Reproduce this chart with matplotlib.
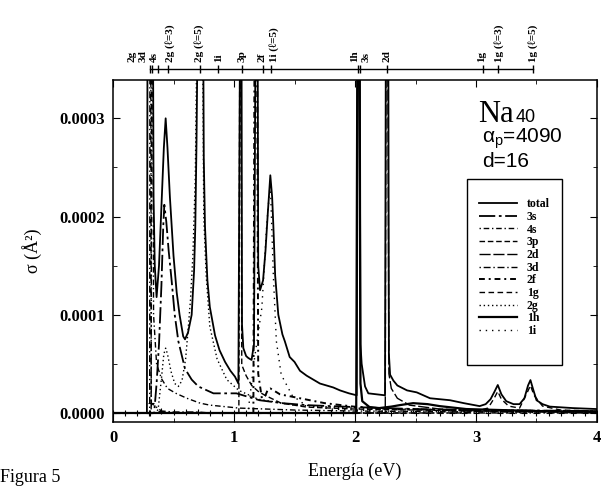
import numpy as np
import matplotlib
matplotlib.use('Agg')
import matplotlib.pyplot as plt
from matplotlib.patches import Rectangle
from matplotlib.transforms import blended_transform_factory

plt.rcParams['font.family'] = ['Liberation Serif', 'DejaVu Serif']
plt.rcParams['font.weight'] = 'bold'
plt.rcParams['mathtext.fontset'] = 'stix'

SCALE = 1e-4  # curve values are written in units of 1e-4 A^2

# total cross section (values > 3.4 run off the top of the frame)
total_x = [0.00, 0.28, 0.285, 0.33, 0.335, 0.345, 0.36, 0.38, 0.40, 0.42, 0.435, 0.45, 0.47,
           0.485, 0.50, 0.526, 0.55, 0.58, 0.595, 0.62, 0.65, 0.67, 0.68, 0.69, 0.70, 0.745,
           0.75, 0.76, 0.78, 0.80, 0.843, 0.88, 0.926, 0.97, 1.008, 1.036, 1.05, 1.062, 1.066,
           1.077, 1.10, 1.118, 1.145, 1.165, 1.178, 1.195, 1.20, 1.215, 1.24, 1.26, 1.28, 1.30,
           1.315, 1.325, 1.34, 1.366, 1.40, 1.42, 1.46, 1.50, 1.545, 1.60, 1.71, 1.82, 1.876,
           1.95, 2.014, 2.022, 2.04, 2.045, 2.055, 2.083, 2.11, 2.248, 2.255, 2.275, 2.28, 2.29,
           2.317, 2.35, 2.43, 2.51, 2.62, 2.785, 2.90, 3.03, 3.08, 3.12, 3.15, 3.18, 3.21, 3.25,
           3.31, 3.36, 3.40, 3.43, 3.45, 3.47, 3.50, 3.55, 3.61, 3.80, 4.00]
total_y = [0.00, 0.00, 4.0, 4.0, 2.2, 1.5, 1.18, 1.5, 2.1, 2.7, 3.0, 2.7, 2.2,
           1.9, 1.6, 1.23, 1.0, 0.78, 0.75, 0.82, 1.0, 1.45, 1.9, 2.76, 4.0, 4.0,
           2.6, 1.9, 1.35, 1.08, 0.79, 0.64, 0.52, 0.43, 0.37, 0.30, 4.0, 4.0, 0.9,
           0.66, 0.58, 0.56, 0.54, 0.70, 4.0, 4.0, 1.5, 1.25, 1.35, 1.65, 2.05, 2.42,
           2.2, 1.91, 1.40, 1.0, 0.80, 0.73, 0.57, 0.52, 0.43, 0.38, 0.30, 0.26, 0.23,
           0.20, 0.18, 4.0, 4.0, 0.7, 0.5, 0.27, 0.20, 0.18, 4.0, 4.0, 0.6, 0.39,
           0.33, 0.28, 0.23, 0.21, 0.15, 0.13, 0.10, 0.07, 0.09, 0.14, 0.21, 0.285, 0.19, 0.12,
           0.09, 0.09, 0.15, 0.28, 0.335, 0.25, 0.13, 0.09, 0.065, 0.05, 0.04]

s3_x = [0.0, 0.34, 0.36, 0.38, 0.40, 0.415, 0.424, 0.44, 0.46, 0.485, 0.51, 0.54, 0.595, 0.65,
        0.705, 0.83, 1.02, 1.21, 1.4, 1.6, 2.0, 2.5, 3.0, 4.0]
s3_y = [0.0, 0.0, 0.3, 0.7, 1.3, 1.9, 2.12, 1.95, 1.65, 1.34, 1.0, 0.73, 0.45, 0.34,
        0.27, 0.2, 0.2, 0.13, 0.1, 0.08, 0.06, 0.04, 0.03, 0.02]

s4_x = [0.0, 0.315, 0.32, 0.33, 0.335, 0.36, 0.40, 0.45, 0.52, 0.61, 0.72, 0.80, 1.04, 1.5, 2.0, 3.0, 4.0]
s4_y = [0.0, 0.0, 4.0, 4.0, 1.0, 0.5, 0.35, 0.25, 0.2, 0.15, 0.1, 0.08, 0.05, 0.03, 0.02, 0.01, 0.01]

p3_x = [0.0, 1.04, 1.048, 1.058, 1.064, 1.10, 1.146, 1.2, 1.256, 1.39, 1.6, 2.0, 3.0, 4.0]
p3_y = [0.0, 0.0, 4.0, 4.0, 0.49, 0.38, 0.28, 0.22, 0.18, 0.10, 0.06, 0.04, 0.02, 0.01]

d2_x = [0.0, 2.25, 2.257, 2.27, 2.28, 2.30, 2.35, 2.45, 2.7, 3.0, 4.0]
d2_y = [0.0, 0.0, 4.0, 4.0, 0.4, 0.25, 0.15, 0.08, 0.04, 0.02, 0.01]

d3_x = [0.0, 0.1, 0.2, 0.3, 0.303, 0.305, 0.312, 0.316, 0.4, 0.5, 0.6, 0.7, 0.8, 0.9, 1.0,
        1.1, 1.2, 1.3, 1.4, 1.5, 1.6, 1.7, 1.8, 1.9, 2.0, 2.1, 2.2, 2.3, 2.4, 2.5, 2.6,
        2.7, 2.8, 2.9, 3.0, 3.1, 3.2, 3.3, 3.4, 3.5, 3.6, 3.7, 3.8, 3.9, 4.0]
d3_y = [0.0, 0.0, 0.0, 0.0, 0.0, 4.0, 4.0, 0.1, 0.02, 0.01, 0.01, 0.01, 0.0, 0.0, 0.0,
        0.0, 0.0, 0.0, 0.0, 0.0, 0.0, 0.0, 0.0, 0.0, 0.0, 0.0, 0.0, 0.0, 0.0, 0.0, 0.0,
        0.0, 0.0, 0.0, 0.0, 0.0, 0.0, 0.0, 0.0, 0.0, 0.0, 0.0, 0.0, 0.0, 0.0]

f2_x = [0.0, 1.16, 1.17, 1.19, 1.20, 1.23, 1.26, 1.28, 1.30, 1.38, 1.545, 1.75, 1.99, 2.3, 3.0, 4.0]
f2_y = [0.0, 0.0, 4.0, 4.0, 0.4, 0.15, 0.18, 0.24, 0.25, 0.19, 0.15, 0.10, 0.065, 0.04, 0.025, 0.015]

g1_x = [0.0, 2.9, 3.0, 3.1, 3.15, 3.18, 3.21, 3.27, 3.36, 3.42, 3.45, 3.48, 3.55, 3.7, 4.0]
g1_y = [0.0, 0.0, 0.02, 0.05, 0.15, 0.22, 0.14, 0.07, 0.05, 0.2, 0.28, 0.18, 0.07, 0.03, 0.02]

g2_x = [0.0, 0.36, 0.374, 0.40, 0.42, 0.435, 0.45, 0.48, 0.51, 0.54, 0.57, 0.60, 0.62, 0.64,
        0.66, 0.68, 0.695, 0.705, 0.74, 0.75, 0.77, 0.80, 0.86, 0.94, 1.04, 1.2, 1.5, 2.0, 3.0, 4.0]
g2_y = [0.0, 0.0, 0.05, 0.35, 0.6, 0.66, 0.6, 0.42, 0.3, 0.27, 0.33, 0.55, 0.84, 1.15,
        1.6, 2.4, 4.0, 4.0, 4.0, 2.0, 1.4, 0.88, 0.55, 0.34, 0.23, 0.14, 0.08, 0.05, 0.03, 0.02]

h1_x = [0.0, 2.01, 2.02, 2.035, 2.045, 2.06, 2.12, 2.2, 2.3, 2.37, 2.48, 2.6, 2.7, 2.92, 3.2, 3.5, 4.0]
h1_y = [0.0, 0.0, 4.0, 4.0, 0.3, 0.12, 0.06, 0.05, 0.065, 0.08, 0.10, 0.09, 0.07, 0.04, 0.03, 0.02, 0.01]

i1_x = [0.0, 1.10, 1.12, 1.17, 1.23, 1.27, 1.30, 1.325, 1.35, 1.39, 1.48, 1.59, 1.8, 2.2, 3.0, 4.0]
i1_y = [0.0, 0.0, 0.05, 0.56, 1.07, 1.91, 2.35, 1.40, 0.73, 0.39, 0.18, 0.08, 0.04, 0.02, 0.01, 0.0]

# levels marked on the scale above the frame
state_ticks = [0.306, 0.325, 0.374, 0.457, 0.719, 0.870, 1.064, 1.237, 1.306,
               2.022, 2.041, 2.262, 3.060, 3.184, 3.473]
state_label_x = [0.16, 0.25, 0.34, 0.47, 0.713, 0.87, 1.064, 1.229, 1.33,
                 2.0, 2.09, 2.262, 3.05, 3.19, 3.473]
state_labels = ['2g', '3d', '4s', '2g (ℓ=3)', '2g (ℓ=5)', '1i', '3p', '2f', '1i (ℓ=5)',
                '1h', '3s', '2d', '1g', '1g (ℓ=3)', '1g (ℓ=5)']

fig = plt.figure(figsize=(6.08, 4.88), dpi=100)
ax = fig.add_axes([0.1859, 0.1352, 0.796, 0.7008])

series = [
    ('total', total_x, total_y, dict(ls='-', lw=1.3)),
    ('3s', s3_x, s3_y, dict(ls=(0, (9, 2, 1.5, 2)), lw=1.3)),
    ('4s', s4_x, s4_y, dict(ls=(0, (1, 2, 4, 2)), lw=1.0)),
    ('3p', p3_x, p3_y, dict(ls=(0, (4, 2)), lw=1.0)),
    ('2d', d2_x, d2_y, dict(ls=(0, (8, 2)), lw=1.0)),
    ('3d', d3_x, d3_y, dict(ls=(0, (1, 2, 5, 2)), lw=1.0)),
    ('2f', f2_x, f2_y, dict(ls=(0, (3, 2, 1, 2)), lw=1.4)),
    ('1g', g1_x, g1_y, dict(ls=(0, (4, 2.5)), lw=1.0)),
    ('2g', g2_x, g2_y, dict(ls=(0, (1, 2)), lw=1.0)),
    ('1h', h1_x, h1_y, dict(ls='-', lw=1.6)),
    ('1i', i1_x, i1_y, dict(ls=(0, (1, 3.5)), lw=1.0)),
]
for name, xs, ys, style in series:
    ax.plot(xs, np.array(ys) * SCALE, color='black', label=name, **style)

# crosses along the zero line
ax.plot(d3_x, np.array(d3_y) * SCALE, ls='none', marker='+', ms=4, mew=0.8, color='black')

ax.set_xlim(0, 4)
ax.set_ylim(-0.092e-4, 3.39e-4)
ax.set_xticks([0, 1, 2, 3, 4])
ax.set_xticks([0.5, 1.5, 2.5, 3.5], minor=True)
ax.set_yticks([0, 1e-4, 2e-4, 3e-4])
ax.set_yticklabels(['0.0000', '0.0001', '0.0002', '0.0003'])
ax.set_yticks([0.5e-4, 1.5e-4, 2.5e-4], minor=True)
ax.tick_params(which='both', direction='in', top=True, right=True, labelsize=12, pad=6)
ax.tick_params(which='major', length=5)
ax.tick_params(which='minor', length=3)
for sp in ax.spines.values():
    sp.set_linewidth(1.1)

ax.set_xlabel('Energía (eV)', fontsize=13, labelpad=12)
ax.set_ylabel('σ (Å²)', fontsize=13, labelpad=12)

ax.text(0.754, 0.877, 'Na', transform=ax.transAxes, fontsize=22,
        fontweight='normal', va='baseline')
ax.text(0.831, 0.877, '40', transform=ax.transAxes, fontsize=13,
        family='Liberation Sans', fontweight='normal', va='baseline')
ax.text(0.762, 0.816, r'$\mathregular{\alpha_p}$=4090', transform=ax.transAxes, fontsize=15,
        family='Liberation Sans', fontweight='normal', va='baseline')
ax.text(0.762, 0.746, 'd=16', transform=ax.transAxes, fontsize=15,
        family='Liberation Sans', fontweight='normal', va='baseline')

ax.legend(loc='upper left', bbox_to_anchor=(0.745, 0.672), frameon=False, fontsize=8.5,
          handlelength=3.2, handletextpad=0.8, labelspacing=0.06, borderpad=0)
ax.add_patch(Rectangle((0.731, 0.1667), 0.197, 0.544, transform=ax.transAxes,
                       fill=False, lw=1.0, color='black'))

# level scale above the frame
tax = fig.add_axes([0.1859, 0.8586, 0.796, 0.001])
tax.set_xlim(0, 4)
tax.patch.set_visible(False)
for side in ['left', 'right', 'top']:
    tax.spines[side].set_visible(False)
tax.spines['bottom'].set_bounds(state_ticks[0], state_ticks[-1])
tax.spines['bottom'].set_linewidth(1.0)
tax.set_yticks([])
tax.set_xticks(state_ticks)
tax.set_xticklabels([])
tax.tick_params(axis='x', direction='inout', length=6, width=1.0)
trans = blended_transform_factory(tax.transData, fig.transFigure)
for lx, lab in zip(state_label_x, state_labels):
    fig.text(lx, 0.872, lab, transform=trans, rotation=90, ha='center', va='bottom',
             fontsize=8)

fig.text(0.0, 0.012, 'Figura 5', fontsize=13, fontweight='normal')

plt.savefig('out.png', dpi=100)
